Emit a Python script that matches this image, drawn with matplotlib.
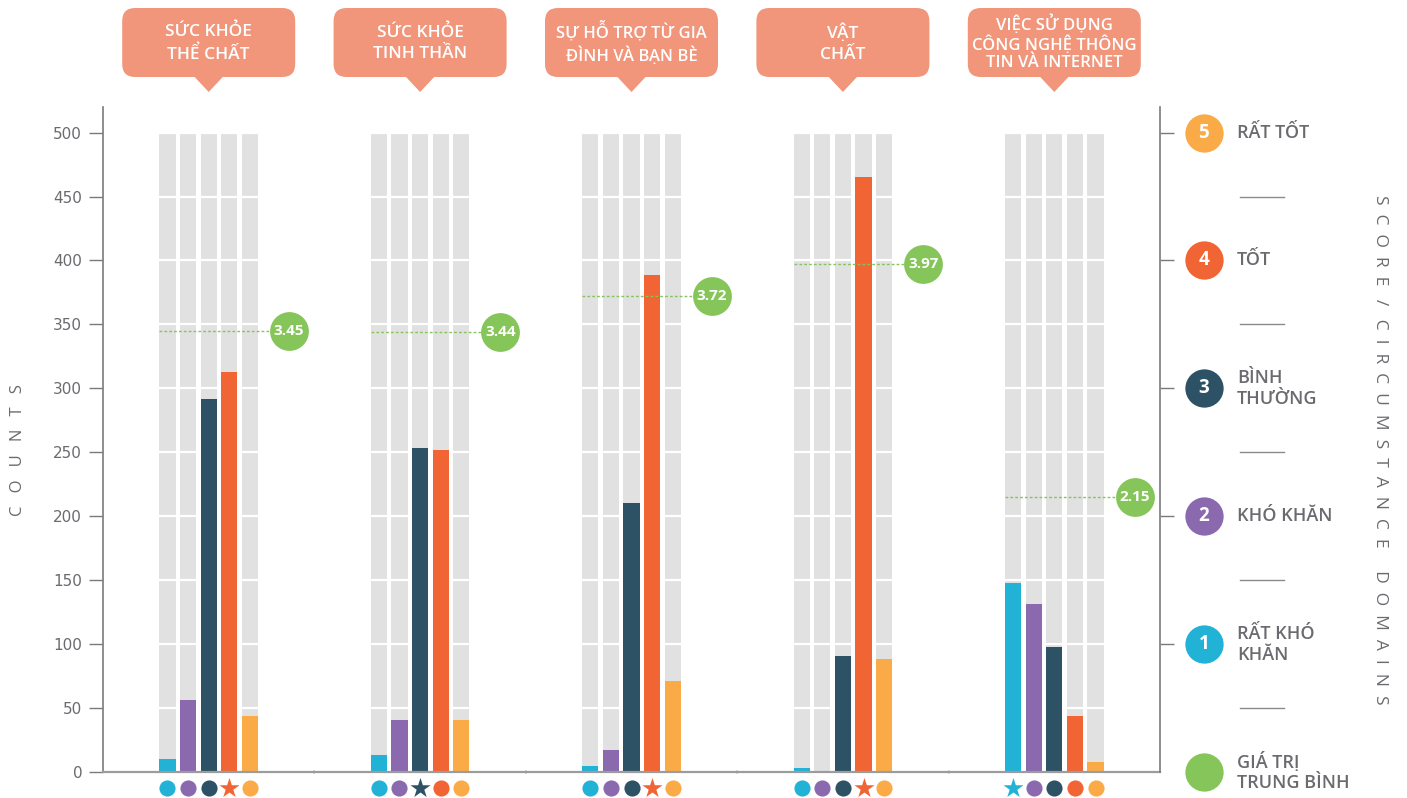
import numpy as np
import matplotlib
matplotlib.use("Agg")
import matplotlib.pyplot as plt
from matplotlib.patches import FancyBboxPatch, Polygon

plt.rcParams['font.family'] = ['Open Sans', 'DejaVu Sans']

# ---- data -------------------------------------------------------------
domains = [
    "SỨC KHỎE\nTHỂ CHẤT",
    "SỨC KHỎE\nTINH THẦN",
    "SỰ HỖ TRỢ TỪ GIA\nĐÌNH VÀ BẠN BÈ",
    "VẬT\nCHẤT",
    "VIỆC SỬ DỤNG\nCÔNG NGHỆ THÔNG\nTIN VÀ INTERNET",
]
scores = [1, 2, 3, 4, 5]
score_labels = ["RẤT KHÓ\nKHĂN", "KHÓ KHĂN", "BÌNH\nTHƯỜNG", "TỐT", "RẤT TỐT"]
# counts per domain for scores 1..5
counts = [
    [10, 56, 292, 313, 44],
    [13, 41, 253, 252, 41],
    [5, 17, 210, 389, 71],
    [3, 1, 91, 465, 88],
    [148, 131, 98, 44, 8],
]
averages = [3.45, 3.44, 3.72, 3.97, 2.15]
count_ticks = list(range(0, 501, 50))

# ---- style ------------------------------------------------------------
score_colors = ["#22B2D6", "#8A69AE", "#2D5266", "#F16433", "#FAAB47"]
green = "#86C55A"
track = "#E1E1E1"
header_col = "#F1957B"
txt = "#6C696F"
axis_col = "#7A7A7A"

W, H = 1407, 798
fig = plt.figure(figsize=(W / 100, H / 100), dpi=100)
ax = fig.add_axes([103 / W, 1 - 772 / H, (1160 - 103) / W, (772 - 107) / H])
ax.set_xlim(0, len(domains))
ax.set_ylim(0, 520)

step = 0.0975
bw = 0.076
track_top = count_ticks[-1]

for g, row in enumerate(counts):
    gc = g + 0.5
    xs = [gc + (k - 2) * step for k in range(len(scores))]
    ax.bar(xs, [track_top] * len(xs), width=bw, color=track, zorder=1)
    ax.bar(xs, row, width=bw, color=score_colors, zorder=3)
    # bottom markers, the most frequent score gets a star
    top = int(np.argmax(row))
    for k, x in enumerate(xs):
        if k == top:
            ax.scatter(x, -12.5, marker="*", s=230, color=score_colors[k],
                       clip_on=False, zorder=4, linewidths=0)
        else:
            ax.scatter(x, -12.5, marker="o", s=135, color=score_colors[k],
                       clip_on=False, zorder=4, linewidths=0)
    # average score line (score * 100 on the count scale)
    avg_y = averages[g] * 100
    ax.plot([xs[0] - bw / 2, gc + 0.38], [avg_y, avg_y], color=green,
            lw=1.0, ls=(0, (2, 1.5)), zorder=4)
    ax.scatter(gc + 0.38, avg_y, s=780, color=green, zorder=5,
               clip_on=False, linewidths=0)
    ax.text(gc + 0.38, avg_y, f"{averages[g]:.2f}", color="white",
            fontsize=11, fontweight="bold", ha="center", va="center",
            zorder=6)

# white separators across the grey tracks
for v in count_ticks[1:]:
    ax.axhline(v, color="white", lw=1.6, zorder=2)

ax.set_yticks(count_ticks)
ax.set_yticklabels([str(v) for v in count_ticks], fontsize=11,
                   family="DejaVu Sans", color=txt)
ax.tick_params(axis="y", length=10, width=1, color=axis_col, pad=5)
ax.set_xticks([])
ax.set_xticks([1, 2, 3, 4], minor=True)
ax.tick_params(axis="x", which="minor", length=3, direction="inout",
               color="#D8D8D8", width=1.2)
ax.spines["top"].set_visible(False)
ax.spines["right"].set_visible(False)
ax.spines["left"].set_color(axis_col)
ax.spines["left"].set_linewidth(1.2)
ax.spines["bottom"].set_color("#9C9C9C")
ax.spines["bottom"].set_linewidth(1.6)
ax.spines["bottom"].set_zorder(3.5)

# right axis in score units
ax2 = ax.twinx()
ax2.set_ylim(0, 5.2)
ax2.set_yticks(scores)
ax2.set_yticklabels([])
ax2.tick_params(axis="y", length=10, width=1, color=axis_col)
for side in ["top", "left", "bottom"]:
    ax2.spines[side].set_visible(False)
ax2.spines["right"].set_color(axis_col)
ax2.spines["right"].set_linewidth(1.2)

# legend beside the right axis
lx, tx = 5.208, 5.364
for s, lab, c in zip(scores, score_labels, score_colors):
    ax.scatter(lx, s * 100, s=760, color=c, clip_on=False, zorder=5,
               linewidths=0)
    ax.text(lx, s * 100, str(s), color="white", fontsize=13.5,
            fontweight="bold", ha="center", va="center", zorder=6,
            clip_on=False)
    ax.text(tx, s * 100, lab, color=txt, fontsize=13, fontweight="semibold",
            ha="left", va="center", linespacing=1.2, clip_on=False)
for v in count_ticks[1::2]:
    ax.plot([5.38, 5.585], [v, v], color="#8A8A8A", lw=1, clip_on=False)
ax.scatter(lx, 0, s=760, color=green, clip_on=False, zorder=5, linewidths=0)
ax.text(tx, 0, "GIÁ TRỊ\nTRUNG BÌNH", color=txt, fontsize=13,
        fontweight="semibold", ha="left", va="center", linespacing=1.2,
        clip_on=False)

fig.text(18 / W, 1 - 450 / H, "C   O   U   N   T   S", rotation=90,
         color=txt, fontsize=12, ha="center", va="center")
fig.text(1380 / W, 1 - 450 / H,
         "S  C  O  R  E   /   C  I  R  C  U  M  S  T  A  N  C  E     D  O  M  A  I  N  S",
         rotation=-90, color=txt, fontsize=12.5, ha="center", va="center")

# speech-bubble headers above each domain
ov = fig.add_axes([0, 0, 1, 1], facecolor="none")
ov.set_xlim(0, W)
ov.set_ylim(H, 0)
ov.axis("off")
for g, name in enumerate(domains):
    cx = ax.transData.transform((g + 0.5, 0))[0]
    ov.add_patch(FancyBboxPatch((cx - 86.5, 8), 173, 69,
                                boxstyle="round,pad=0,rounding_size=13",
                                color=header_col, lw=0))
    ov.add_patch(Polygon([(cx - 15, 76), (cx + 15, 76), (cx, 92)],
                         closed=True, color=header_col, lw=0))
    three = name.count("\n") == 2
    fs = 12.5 if len(name) < 20 else 12
    ov.text(cx, 43, name, color="white", fontsize=fs, fontweight="semibold",
            ha="center", va="center", linespacing=1.1 if three else 1.4)

fig.savefig("out.png", dpi=100)
